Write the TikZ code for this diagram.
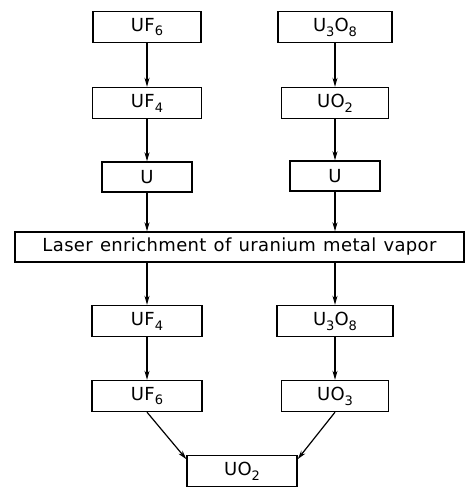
\documentclass[tikz,border=0pt]{standalone}
\usepackage{fontspec}
\setmainfont[LetterSpace=2]{DejaVu Sans}
\usetikzlibrary{arrows.meta}
\newcommand\sbs[1]{\raisebox{-0.5ex}{\fontsize{13}{13}\selectfont #1}}
\tikzset{
  box/.style={draw, line width=1.4pt, minimum height=31pt, inner sep=0pt,
    font=\fontsize{18}{18}\selectfont},
  flow/.style={line width=1.2pt, -{Stealth[length=9pt,width=5pt]}},
}
\begin{document}
\begin{tikzpicture}[x=1pt,y=-1pt]
\useasboundingbox (0,0) rectangle (466,489);
% left column
\node[box, minimum width=108pt] (uf6a) at (147,27) {UF\sbs{6}};
\node[box, minimum width=109pt] (uf4a) at (147,103) {UF\sbs{4}};
\node[box, minimum width=90pt, minimum height=30pt] (ua) at (147,177) {U};
% right column
\node[box, minimum width=114pt] (u3o8a) at (335,27) {U\sbs{3}O\sbs{8}};
\node[box, minimum width=107pt] (uo2a) at (335,103) {UO\sbs{2}};
\node[box, minimum width=90pt, minimum height=30pt] (ub) at (335,176) {U};
% laser
\node[box, minimum width=449pt, minimum height=30pt] (laser) at (239.5,247)
  {Laser\hspace{0.4em}enrichment\hspace{0.4em}of\hspace{0.4em}uranium\hspace{0.4em}metal\hspace{0.4em}vapor};
% lower
\node[box, minimum width=110pt] (uf4b) at (147,321) {UF\sbs{4}};
\node[box, minimum width=110pt] (uf6b) at (147,396) {UF\sbs{6}};
\node[box, minimum width=116pt] (u3o8b) at (335,321) {U\sbs{3}O\sbs{8}};
\node[box, minimum width=107pt] (uo3) at (335,396) {UO\sbs{3}};
\node[box, minimum width=110pt] (uo2b) at (242,471) {UO\sbs{2}};
% connectors
\draw[flow] (uf6a) -- (uf4a);
\draw[flow] (uf4a) -- (ua);
\draw[flow] (u3o8a) -- (uo2a);
\draw[flow] (uo2a) -- (ub);
\draw[flow] (ua.south) -- (ua.south |- laser.north);
\draw[flow] (ub.south) -- (ub.south |- laser.north);
\draw[flow] (laser.south -| uf4b) -- (uf4b.north);
\draw[flow] (laser.south -| u3o8b) -- (u3o8b.north);
\draw[flow] (uf4b) -- (uf6b);
\draw[flow] (u3o8b) -- (uo3);
\draw[flow] (uf6b.south) -- (uo2b.168);
\draw[flow] (uo3.south) -- (uo2b.12);
\end{tikzpicture}
\end{document}
